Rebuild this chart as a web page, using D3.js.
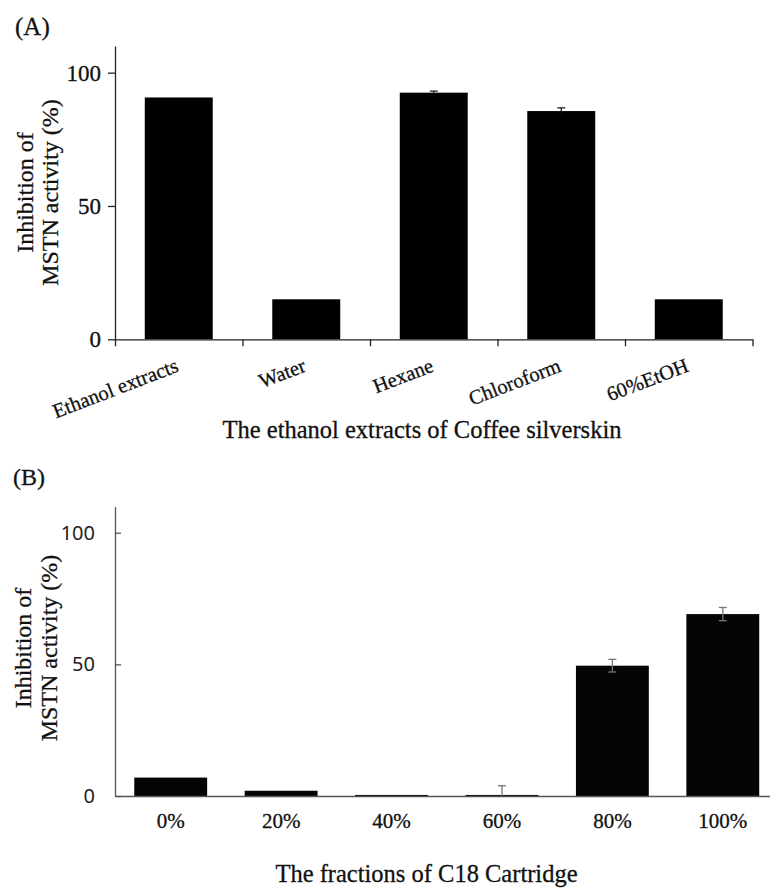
<!DOCTYPE html>
<html>
<head>
<meta charset="utf-8">
<script src="https://cdn.jsdelivr.net/npm/d3@7"></script>
<style>
	body { margin: 0; background: #fff; }
	svg { display: block; }
	.serif { font-family: "Liberation Serif", "Times New Roman", serif; fill: #111; stroke: #111; stroke-width: 0.3; }
	.axis path, .axis line { stroke: #222; stroke-width: 1.3; }
	.axis text { font-family: "Liberation Serif", serif; fill: #111; stroke: #111; stroke-width: 0.3; }
	.axisB path, .axisB line { stroke: #555; stroke-width: 1.3; }
</style>
</head>
<body>
<main></main>
<script>
// Panel (A) values
const catsA = ["Ethanol extracts", "Water", "Hexane", "Chloroform", "60%EtOH"];
const valsA = [90.7, 15.0, 92.5, 85.6, 15.0];
const errA = [0, 0, 0.6, 1.2, 0];
// Panel (B) values
const catsB = ["0%", "20%", "40%", "60%", "80%", "100%"];
const valsB = [7.0, 2.0, 0.4, 0.4, 49.5, 69.1];
const errB = [0, 0, 0, 3.5, 2.4, 2.5];
// y ticks (both panels)
const yTicks = [0, 50, 100];

const sw = 770,
	sh = 890,
	cap = 4; //half width of error bar cap

const svg = d3
	.select("main")
	.append("svg")
	.attr("width", sw)
	.attr("height", sh);

// Y label, two lines rotated
const yLabel = (cy, x1, x2) => {
	svg
		.append("text")
		.attr("class", "serif")
		.attr("transform", "translate(" + x1 + "," + cy + ") rotate(-90)")
		.attr("text-anchor", "middle")
		.style("font-size", "24px")
		.text("Inhibition of");
	svg
		.append("text")
		.attr("class", "serif")
		.attr("transform", "translate(" + x2 + "," + cy + ") rotate(-90)")
		.attr("text-anchor", "middle")
		.style("font-size", "24px")
		.text("MSTN activity (%)");
};

/*----------------Panel A-----------------*/
const xA = d3
		.scaleBand()
		.domain(catsA)
		.range([115, 752.5])
		.paddingInner(0.467)
		.paddingOuter(0.2335),
	yA = d3.scaleLinear().domain([0, 110]).range([339.3, 46]),
	//boundaries for the category tick marks
	xAb = d3.scaleLinear().domain([0, catsA.length]).range([115, 752.5]);

svg
	.append("text")
	.attr("class", "serif")
	.attr("x", 15)
	.attr("y", 35)
	.style("font-size", "25px")
	.text("(A)");

svg
	.selectAll("rect.barA")
	.data(valsA)
	.enter()
	.append("rect")
	.attr("class", "barA")
	.attr("fill", "#000")
	.attr("x", (d, i) => xA(catsA[i]))
	.attr("y", (d) => yA(d))
	.attr("width", xA.bandwidth())
	.attr("height", (d) => yA(0) - yA(d));

//error bars
const ebA = svg
	.selectAll("g.errA")
	.data(valsA.map((v, i) => ({ v: v, e: errA[i], c: catsA[i] })).filter((d) => d.e > 0))
	.enter()
	.append("g")
	.attr("class", "errA")
	.attr("stroke", "#111")
	.attr("stroke-width", 1.2);
ebA
	.append("line")
	.attr("x1", (d) => xA(d.c) + xA.bandwidth() / 2)
	.attr("x2", (d) => xA(d.c) + xA.bandwidth() / 2)
	.attr("y1", (d) => yA(d.v - d.e))
	.attr("y2", (d) => yA(d.v + d.e));
ebA
	.append("line")
	.attr("x1", (d) => xA(d.c) + xA.bandwidth() / 2 - cap)
	.attr("x2", (d) => xA(d.c) + xA.bandwidth() / 2 + cap)
	.attr("y1", (d) => yA(d.v + d.e))
	.attr("y2", (d) => yA(d.v + d.e));

svg
	.append("g")
	.attr("class", "axis")
	.attr("transform", "translate(115,0)")
	.call(d3.axisLeft(yA).tickValues(yTicks).tickSize(7).tickPadding(7).tickSizeOuter(0))
	.call((g) => g.selectAll("text").style("font-size", "23px"));

svg
	.append("g")
	.attr("class", "axis")
	.attr("transform", "translate(0," + yA(0) + ")")
	.call(d3.axisBottom(xAb).ticks(catsA.length).tickSize(7).tickSizeOuter(0).tickFormat(""));

//rotated category labels
svg
	.selectAll("text.catA")
	.data(catsA)
	.enter()
	.append("text")
	.attr("class", "serif catA")
	.attr("text-anchor", "end")
	.style("font-size", "20.5px")
	.attr("transform", (d) => "translate(" + (xA(d) + xA.bandwidth() / 2 + 1) + ",371) rotate(-21)")
	.text((d) => d);

svg
	.append("text")
	.attr("class", "serif")
	.attr("x", 422)
	.attr("y", 438)
	.attr("text-anchor", "middle")
	.style("font-size", "24.5px")
	.text("The ethanol extracts of Coffee silverskin");

yLabel(192.5, 33, 58);

/*----------------Panel B-----------------*/
const xB = d3
		.scaleBand()
		.domain(catsB)
		.range([115.5, 778])
		.paddingInner(0.34)
		.paddingOuter(0.17),
	yB = d3.scaleLinear().domain([0, 110]).range([796, 506.4]);

svg
	.append("text")
	.attr("class", "serif")
	.attr("x", 13)
	.attr("y", 485)
	.style("font-size", "24px")
	.text("(B)");

svg
	.selectAll("rect.barB")
	.data(valsB)
	.enter()
	.append("rect")
	.attr("class", "barB")
	.attr("fill", "#050505")
	.attr("x", (d, i) => xB(catsB[i]))
	.attr("y", (d) => yB(d))
	.attr("width", xB.bandwidth())
	.attr("height", (d) => yB(0) - yB(d));

const ebB = svg
	.selectAll("g.errB")
	.data(valsB.map((v, i) => ({ v: v, e: errB[i], c: catsB[i] })).filter((d) => d.e > 0))
	.enter()
	.append("g")
	.attr("class", "errB")
	.attr("stroke", "#777")
	.attr("stroke-width", 1.3);
ebB
	.append("line")
	.attr("x1", (d) => xB(d.c) + xB.bandwidth() / 2)
	.attr("x2", (d) => xB(d.c) + xB.bandwidth() / 2)
	.attr("y1", (d) => yB(Math.max(0, d.v - d.e)))
	.attr("y2", (d) => yB(d.v + d.e));
ebB
	.selectAll("line.capB")
	.data((d) => (d.v - d.e > 0 ? [d.v + d.e, d.v - d.e] : [d.v + d.e]))
	.enter()
	.append("line")
	.attr("class", "capB")
	.attr("x1", function () {
		const d = d3.select(this.parentNode).datum();
		return xB(d.c) + xB.bandwidth() / 2 - cap;
	})
	.attr("x2", function () {
		const d = d3.select(this.parentNode).datum();
		return xB(d.c) + xB.bandwidth() / 2 + cap;
	})
	.attr("y1", (v) => yB(v))
	.attr("y2", (v) => yB(v));

svg
	.append("g")
	.attr("class", "axisB")
	.attr("transform", "translate(115,0)")
	.call(d3.axisLeft(yB).tickValues(yTicks).tickSizeInner(-6).tickSizeOuter(0).tickPadding(20))
	.call((g) =>
		g
			.selectAll("text")
			.style("font-family", "'Noto Sans', sans-serif")
			.style("font-size", "20px")
			.attr("fill", "#222")
	);

svg
	.append("g")
	.attr("class", "axisB")
	.attr("transform", "translate(0," + yB(0) + ")")
	.call(d3.axisBottom(xB).tickSize(0).tickPadding(17))
	.call((g) =>
		g
			.selectAll("text")
			.style("font-family", "'Liberation Serif', serif")
			.style("font-size", "21px")
			.attr("fill", "#111")
			.attr("stroke", "#111")
			.attr("stroke-width", 0.3)
	);

svg
	.append("text")
	.attr("class", "serif")
	.attr("x", 426.5)
	.attr("y", 882)
	.attr("text-anchor", "middle")
	.style("font-size", "24.5px")
	.text("The fractions of C18 Cartridge");

yLabel(648, 31, 57);
</script>
</body>
</html>
